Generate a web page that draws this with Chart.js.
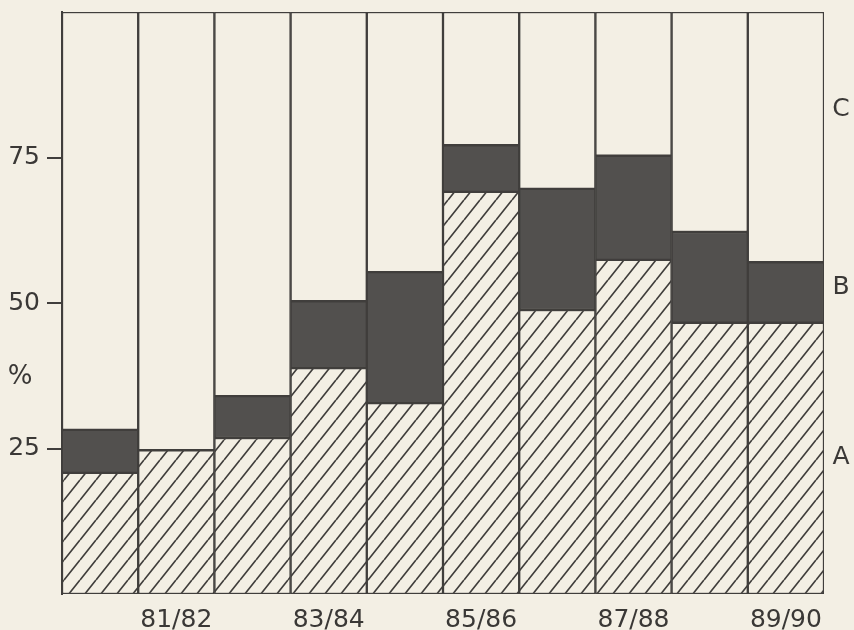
<!DOCTYPE html>
<html>
<head>
<meta charset="utf-8">
<script src="https://cdn.jsdelivr.net/npm/chart.js@4"></script>
<style>
  html, body { margin: 0; padding: 0; background: #f3efe4; }
  #wrap { width: 854px; height: 630px; position: relative; }
</style>
</head>
<body>
<div id="wrap"><canvas id="chart"></canvas></div>
<script>
// seasons on the x axis, only every other one is labelled
const seasons = ["80/81", "81/82", "82/83", "83/84", "84/85", "85/86", "86/87", "87/88", "88/89", "89/90"];
// % per category, stacked bottom to top
const shareA = [20.8, 24.7, 26.8, 38.8, 32.8, 69.1, 48.8, 57.4, 46.6, 46.6];
const shareB = [7.4, 0, 7.2, 11.5, 22.5, 8.0, 20.8, 17.9, 15.6, 10.4];
const shareC = [71.8, 75.3, 66.0, 49.7, 44.7, 22.9, 30.4, 24.7, 37.8, 43.0];
const yTicks = [25, 50, 75];
const seriesNames = ["A", "B", "C"];

const paper = "#f3efe4";
const ink = "#403e3c";
const dark = "#52504e";
const font = "'DejaVu Sans', sans-serif";

// diagonal hatching "/" for A
function makeHatch() {
  const w = 16, h = 20;
  const c = document.createElement("canvas");
  c.width = w; c.height = h;
  const g = c.getContext("2d");
  g.fillStyle = paper;
  g.fillRect(0, 0, w, h);
  g.strokeStyle = ink;
  g.lineWidth = 1.7;
  g.beginPath();
  [-1, 0, 1].forEach((k) => {
    g.moveTo(k * w, h);
    g.lineTo(k * w + w, 0);
  });
  g.stroke();
  return g.createPattern(c, "repeat");
}

const paperBg = {
  id: "paperBg",
  beforeDraw(chart) {
    const { ctx, width, height } = chart;
    ctx.save();
    ctx.fillStyle = paper;
    ctx.fillRect(0, 0, width, height);
    ctx.restore();
  },
};

// A / B / C at the right side and the % sign on the left
const sideLabels = {
  id: "sideLabels",
  afterDraw(chart) {
    const { ctx, chartArea } = chart;
    const y = chart.scales.y;
    const labelAt = { A: 23.5, B: 52.7, C: 83.2 };
    ctx.save();
    ctx.font = "25px " + font;
    ctx.fillStyle = "#3a3836";
    ctx.textAlign = "center";
    ctx.textBaseline = "middle";
    seriesNames.forEach((n) => {
      ctx.fillText(n, chartArea.right + 17, y.getPixelForValue(labelAt[n]));
    });
    ctx.font = "26px " + font;
    ctx.fillText("%", 20, y.getPixelForValue(37.3));
    ctx.restore();
  },
};

const ctx = document.getElementById("chart").getContext("2d");
const barStyle = {
  borderColor: ink,
  borderWidth: 1.5,
  borderSkipped: false,
  categoryPercentage: 1,
  barPercentage: 1,
};

new Chart(ctx, {
  type: "bar",
  data: {
    labels: seasons,
    datasets: [
      { label: seriesNames[0], data: shareA, backgroundColor: makeHatch(), ...barStyle },
      { label: seriesNames[1], data: shareB, backgroundColor: dark, ...barStyle },
      { label: seriesNames[2], data: shareC, backgroundColor: paper, ...barStyle },
    ],
  },
  options: {
    responsive: true,
    maintainAspectRatio: false,
    animation: false,
    layout: { padding: { left: 0, right: 30, top: 12, bottom: 0 } },
    plugins: { legend: { display: false }, tooltip: { enabled: false } },
    scales: {
      x: {
        stacked: true,
        grid: { display: false, drawTicks: false },
        border: { display: false },
        ticks: {
          autoSkip: false,
          maxRotation: 0,
          padding: 11,
          color: "#3a3836",
          font: { family: font, size: 25 },
          callback: (v, i) => (i % 2 === 1 ? seasons[i] : ""),
        },
        afterFit: (s) => { s.height = 36; s.paddingLeft = 0; s.paddingRight = 0; },
      },
      y: {
        stacked: true,
        min: 0,
        max: 100,
        grid: { drawOnChartArea: false, drawTicks: true, tickLength: 15, color: ink, lineWidth: 2 },
        border: { display: true, color: ink, width: 2 },
        ticks: {
          padding: 7,
          color: "#3a3836",
          font: { family: font, size: 25 },
        },
        afterBuildTicks: (s) => { s.ticks = yTicks.map((v) => ({ value: v })); },
        afterFit: (s) => { s.width = 62; s.paddingTop = 0; s.paddingBottom = 0; },
      },
    },
  },
  plugins: [paperBg, sideLabels],
});
</script>
</body>
</html>
